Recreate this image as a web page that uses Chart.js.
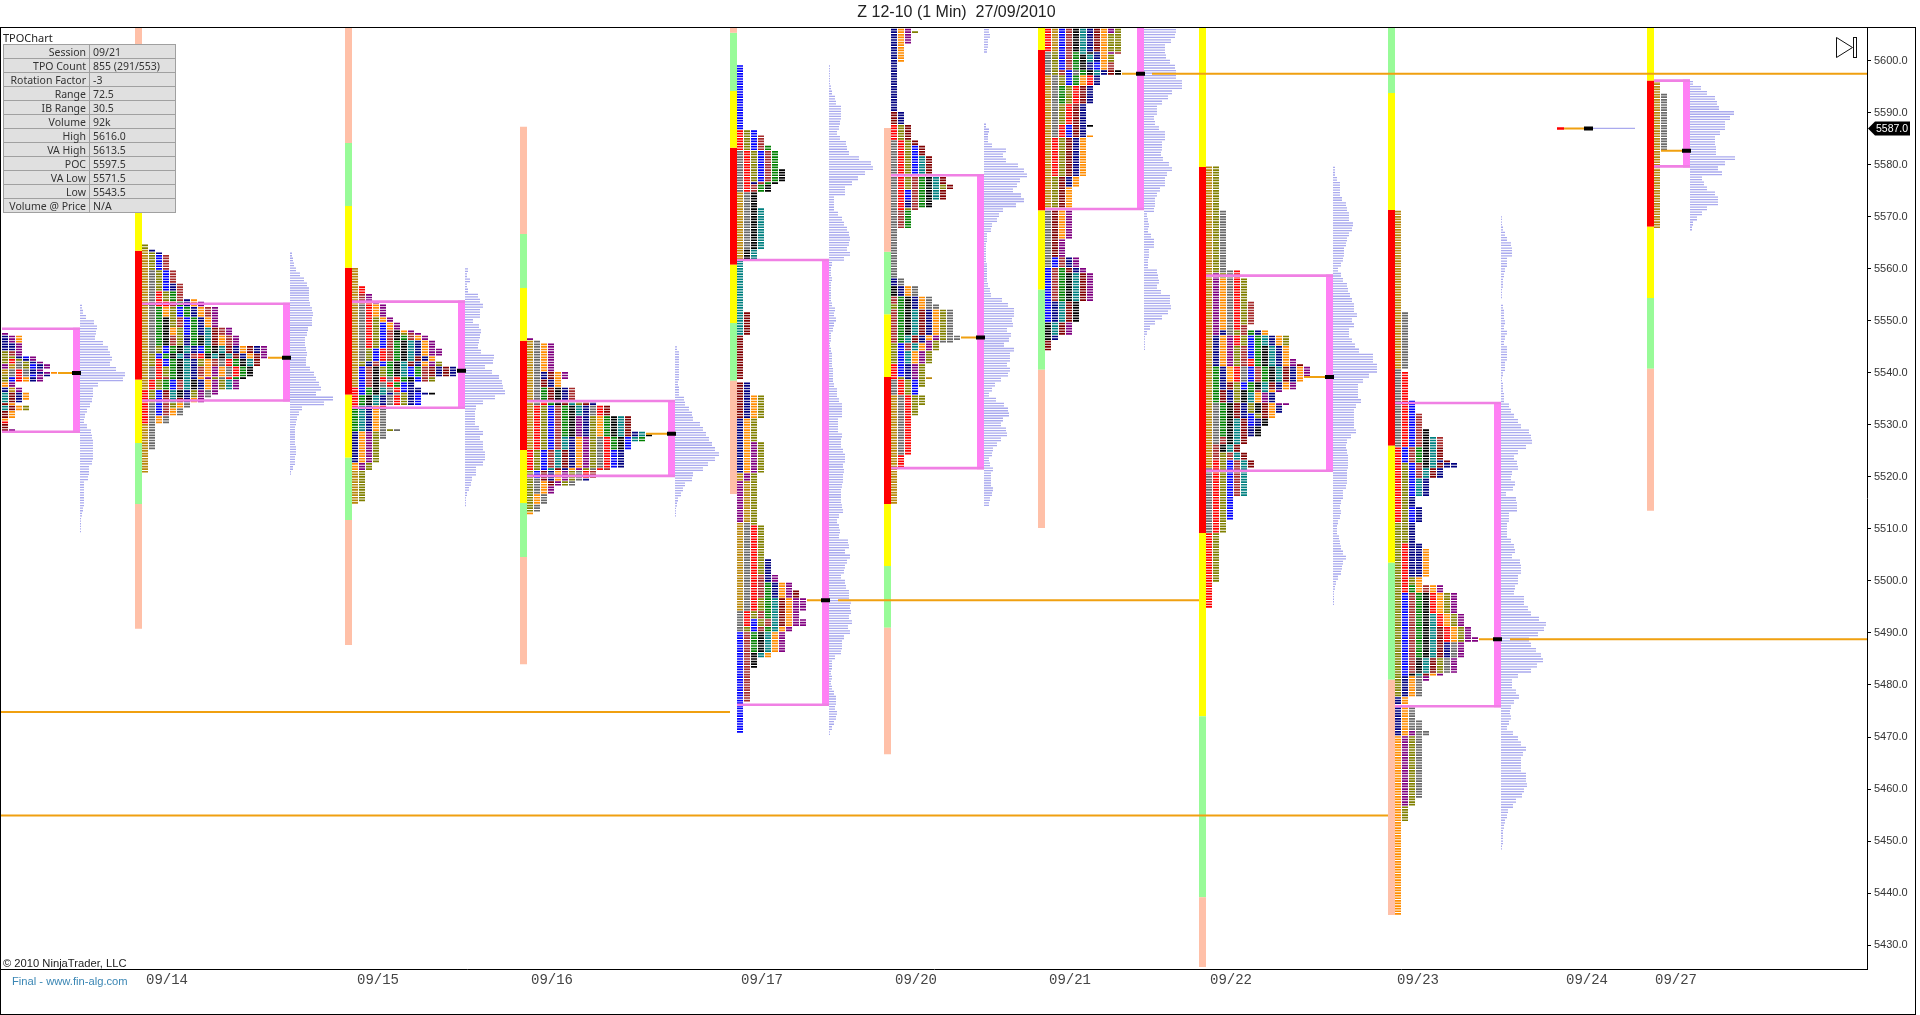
<!DOCTYPE html>
<html>
<head>
<meta charset="utf-8">
<title>Z 12-10 TPO</title>
<script src="https://cdn.jsdelivr.net/npm/chart.js@4"></script>
<style>
    html, body { margin: 0; padding: 0; background: #fff; overflow: hidden; }
    #wrap { position: relative; width: 1920px; height: 1015px; }
    #wrap canvas { position: absolute; left: 0; top: 0; }
    .txt { position: absolute; white-space: nowrap; font-family: "Liberation Sans", sans-serif; }
    #heading { left: 0; width: 1913px; top: 3px; text-align: center; font-size: 16px; color: #222; }
    #tpoName { left: 3px; top: 32px; font-size: 11px; font-family: "Noto Sans", sans-serif; color: #222; line-height: 12px; }
    #copy { left: 3px; top: 957px; font-size: 11.2px; color: #222; }
    #final { left: 12px; top: 975px; font-size: 11.2px; color: #3a86b4; }
    #stats { position: absolute; left: 3px; top: 44px; border-collapse: collapse; font: 10.5px "Noto Sans", sans-serif; color: #333; }
    #stats td { background: #e0e0e0; border: 1px solid #a0a0a0; height: 13px; padding: 0 3px; line-height: 12px; }
    #stats td:first-child { width: 79px; text-align: right; }
    #stats td:last-child { width: 79px; }
</style>
</head>
<body>
<div id="wrap">
    <canvas id="Chart1" width="1920" height="1015"></canvas>
    <div class="txt" id="heading">Z 12-10 (1 Min)&nbsp; 27/09/2010</div>
    <div class="txt" id="tpoName">TPOChart</div>
    <table id="stats"></table>
    <div class="txt" id="copy">&copy; 2010 NinjaTrader, LLC</div>
    <div class="txt" id="final">Final - www.fin-alg.com</div>
</div>
<script>
const xLabels = ['09/14', '09/15', '09/16', '09/17', '09/20', '09/21', '09/22', '09/23', '09/24', '09/27'];
const xLabelSlots = [167, 378, 552, 762, 916, 1070, 1231, 1418, 1587, 1676];
const currentPrice = 5587.0;

const statNames = ['Session', 'TPO Count', 'Rotation Factor', 'Range', 'IB Range', 'Volume', 'High', 'VA High', 'POC', 'VA Low', 'Low', 'Volume @ Price'];
const statValues = ['09/21', '855 (291/553)', '-3', '72.5', '30.5', '92k', '5616.0', '5613.5', '5597.5', '5571.5', '5543.5', 'N/A'];

// one entry per session, first one is the cut off 09/13
const sessionSlot = [2, 142, 352, 527, 737, 891, 1045, 1206, 1395, 1564, 1654];
const boxEnd = [80, 290, 465, 675, 829, 984, 1144, 1333, 1501, 1592, 1690];
const vaHigh = [5548.5, 5553.3, 5553.7, 5534.6, 5561.7, 5578, 5613.5, 5558.7, 5534.2, null, 5596.2];
const vaLow = [5528.7, 5534.7, 5533.3, 5520.2, 5476.2, 5521.7, 5571.5, 5521.2, 5475.9, null, 5579.7];
const pocPrice = [5540, 5542.9, 5540.4, 5528.3, 5496.3, 5546.8, 5597.5, 5539.2, 5488.8, 5587, 5582.7];

// range bar on the left of each session
const barEdges = [
    [],
    [5606.5, 5592.5, 5581, 5563.5, 5538.7, 5526.5, 5514.8, 5490.8],
    [5606.5, 5584.2, 5572.1, 5560.2, 5535.8, 5523.7, 5511.7, 5487.7],
    [5587.3, 5566.7, 5556.3, 5546.2, 5525.2, 5515, 5504.6, 5484],
    [5606.5, 5605.4, 5594.2, 5583.3, 5560.8, 5549.6, 5538.5, 5516.7],
    [5587.1, 5563.3, 5551.3, 5539.2, 5514.8, 5502.9, 5491, 5466.7],
    [5606.5, 5602.1, 5571.2, 5556, 5540.6, 5510.2],
    [5606.5, 5579.6, 5509.2, 5474, 5439.2, 5425.8],
    [5606.5, 5593.8, 5571.3, 5526, 5503.5, 5481, 5435.8],
    [5587.25, 5586.75],
    [5606.5, 5596.2, 5568.1, 5554.4, 5540.8, 5513.5]
];
const barColours = ['', 'SLYRYLS', 'SLYRYLS', 'SLYRYLS', 'SLYRYLS', 'SLYRYLS', 'YRYLS', 'YRYLS', 'LYRYLS', 'R', 'YRYLS'];

// [high, low, letters left to right], one letter per TPO block
const tpo0913 = [[5547.5, 5547.5, 'P'], [5547, 5546, 'VPA'], [5545.5, 5544.5, 'VVP'], [5544, 5543.5, 'OWP'], [5543, 5543, 'OOVBP'], [5542.5, 5542.5, 'OROVP'], [5542, 5542, 'ORDOVP'], [5541.5, 5541, 'PGDOBVP'], [5540.5, 5540.5, 'GDRDVP'], [5540, 5540, 'GDRDVVPA'], [5539.5, 5539.5, 'ODRDBPV'], [5539, 5538.5, 'OBRAVP'], [5538, 5537.5, 'AP'], [5537, 5536.5, 'VGP'], [5536, 5535, 'TMVA'], [5534.5, 5534.5, 'TMV'], [5534, 5534, 'MA'], [5533.5, 5533, 'TMAO'], [5532.5, 5531.5, 'MA'], [5531, 5531, 'A'], [5530.5, 5530.5, 'R'], [5530, 5529.5, 'M'], [5529, 5529, 'MP']];
const tpo0914 = [[5564.5, 5564, 'O'], [5563.5, 5563.5, 'GV'], [5563, 5563, 'GOV'], [5562.5, 5560, 'GOBW'], [5559.5, 5557.5, 'GDOBW'], [5557, 5556, 'GDOBVW'], [5555.5, 5554.5, 'GDRONW'], [5554, 5554, 'GDRONWVA'], [5553.5, 5553, 'GDRRWNVAP'], [5552.5, 5551, 'GDNAOBNVAWP'], [5550.5, 5549, 'GDNKOWBNVAP'], [5548.5, 5547.5, 'GDNKAOBNVTMWP'], [5547, 5545.5, 'GDNKWOVNKTMAWP'], [5545, 5544, 'GDOBNKTVBNKTMVAMVP'], [5543.5, 5543, 'GOBNKTVWRKTKTMVAMP'], [5542.5, 5541.5, 'GORBNKTVOAWDRNKTM'], [5541, 5539.5, 'GDRONKTVWAPADRNK'], [5539, 5539, 'GDRWNKTVAPODRNK'], [5538.5, 5537, 'GRONBWTKVAPOTP'], [5536.5, 5536, 'ROBMTKVOPDP'], [5535.5, 5535.5, 'ROBMTKVOPD'], [5535, 5534.5, 'ROBWTMVAP'], [5534, 5533.5, 'RDBWOAD'], [5533, 5532, 'RDBWAD'], [5531.5, 5530.5, 'RDAD'], [5530, 5525.5, 'GD'], [5525, 5521, 'G']];
const tpo0915 = [[5560, 5557, 'G'], [5556.5, 5555.5, 'GR'], [5555, 5554, 'GWP'], [5553.5, 5553.5, 'GWRP'], [5553, 5551, 'GDRAP'], [5550.5, 5550, 'GDROAP'], [5549.5, 5548.5, 'GDROBAP'], [5548, 5548, 'GDROBWKAP'], [5547.5, 5547.5, 'GDROBWKOWP'], [5547, 5546.5, 'GDROBWKNWAP'], [5546, 5545, 'GDROBWNKTVAP'], [5544.5, 5543.5, 'GDOBRWNKTVAPP'], [5543, 5542.5, 'GDOBRWNKTMVA'], [5542, 5541.5, 'GOVWBNKTMVAPO'], [5541, 5539.5, 'GBWKONKTBNWMVMV'], [5539, 5538.5, 'GBWKRDRNKBWO'], [5538, 5537.5, 'GBWKDRNBV'], [5537, 5536.5, 'RBNKTDRBVV'], [5536, 5536, 'RBNKTVDOVBVK'], [5535.5, 5534, 'RNKTVDROVB'], [5533.5, 5533.5, 'RTVAR'], [5533, 5529.5, 'NTVAD'], [5529, 5529, 'NTVADOD'], [5528.5, 5527.5, 'VAPOD'], [5527, 5523, 'VAPO'], [5522.5, 5521.5, 'APO'], [5521, 5515.5, 'GO'], [5515, 5515, 'G']];
const tpo0916 = [[5546.5, 5546.5, 'P'], [5546, 5546, 'GD'], [5545.5, 5540.5, 'GDAP'], [5540, 5539, 'GDVMAP'], [5538.5, 5537.5, 'GDMVA'], [5537, 5535, 'GDNMKVW'], [5534.5, 5534, 'GDRNKMTOMV'], [5533.5, 5532, 'GROBWNKTVDRM'], [5531.5, 5529, 'GROBWNKPVOANKTM'], [5528.5, 5528.5, 'GROBWNKPVOANKTMVT'], [5528, 5528, 'GROBWNKPVOANKTMVTK'], [5527.5, 5527, 'GROBWTVAPODRNKBTN'], [5526.5, 5525.5, 'GROBWTVAPODRNKB'], [5525, 5522, 'ROBWTMVAPODRBV'], [5521.5, 5521.5, 'ROBTMVAPODRW'], [5521, 5520, 'OBMVAPODRW'], [5519.5, 5519.5, 'ODMVAPODV'], [5519, 5518.5, 'ODAMPOD'], [5518, 5517, 'ODAP'], [5516.5, 5515, 'OAD'], [5514.5, 5513.5, 'OD'], [5513, 5513, 'A']];
const tpo0917 = [[5599, 5587, 'B'], [5586.5, 5586, 'ROB'], [5585.5, 5584, 'ROBW'], [5583.5, 5583, 'ROBWN'], [5582.5, 5579.5, 'DROBWN'], [5579, 5577, 'DROBWNK'], [5576.5, 5576.5, 'DRVWNK'], [5576, 5575, 'DRWNK'], [5574.5, 5572, 'GDK'], [5571.5, 5564, 'GDKT'], [5563.5, 5562, 'GKT'], [5561.5, 5552, 'T'], [5551.5, 5547.5, 'TM'], [5547, 5539, 'M'], [5538, 5536, 'MV'], [5535.5, 5531.5, 'MVAO'], [5531, 5527, 'VAO'], [5526.5, 5521, 'VAPO'], [5520.5, 5519.5, 'GPO'], [5519, 5511.5, 'PGO'], [5511, 5511, 'GDO'], [5510.5, 5504.5, 'GDRO'], [5504, 5501.5, 'GDROV'], [5501, 5500, 'GDRWVP'], [5499.5, 5498.5, 'GDRWNVAP'], [5498, 5497, 'GDRWNVAPM'], [5496.5, 5494.5, 'GDRONTMAPP'], [5494, 5493, 'DROWNTMAP'], [5492.5, 5491.5, 'DRBOWTMAPP'], [5491, 5490.5, 'DOBWNTAP'], [5490, 5486.5, 'BWNKTAP'], [5486, 5485.5, 'BWKTA'], [5485, 5483.5, 'BWK'], [5483, 5477, 'BW'], [5476.5, 5471, 'B']];
const tpo0920 = [[5606.5, 5606, 'VAP'], [5605.5, 5605.5, 'VAPO'], [5605, 5603.5, 'VAP'], [5603, 5600, 'VA'], [5599.5, 5590.5, 'V'], [5590, 5588, 'MV'], [5587.5, 5585, 'ROM'], [5584.5, 5584, 'DROM'], [5583.5, 5582, 'DROBM'], [5581.5, 5578.5, 'DROBTM'], [5578, 5576.5, 'DROWNKTM'], [5576, 5575.5, 'DROWNKTOM'], [5575, 5573.5, 'DRBWNKTM'], [5573, 5572, 'DRVWNK'], [5571.5, 5571.5, 'DROW'], [5571, 5568, 'DWN'], [5567.5, 5558.5, 'D'], [5558, 5557, 'VD'], [5556.5, 5555, 'KVAD'], [5554.5, 5553.5, 'WNKVAD'], [5553, 5552.5, 'ONKVADD'], [5552, 5547.5, 'WNKTMVAOD'], [5547, 5546.5, 'WNTMVAPODD'], [5546, 5546, 'WNTMVPODD'], [5545.5, 5544.5, 'OBWTAPO'], [5544, 5542, 'OBTAPO'], [5541.5, 5539.5, 'RBVPO'], [5539, 5539, 'ROVPOG'], [5538.5, 5537.5, 'DROBO'], [5537, 5536, 'DROB'], [5535.5, 5534, 'GDROO'], [5533.5, 5532, 'GDRO'], [5531.5, 5524.5, 'GDR'], [5524, 5522, 'GR'], [5521.5, 5515, 'G']];
const tpo0921 = [[5606.5, 5605.5, 'RGBWKTVMAPO'], [5605, 5602, 'RGBWKTVMAOO'], [5601.5, 5601.5, 'DOBWNTKVAPW'], [5601, 5600, 'DOBWNKTVAO'], [5599.5, 5598.5, 'DOBWNKVBAW'], [5598, 5597.5, 'DOWBDNKTVMK'], [5597, 5595.5, 'GDOBNARV'], [5595, 5592, 'GDNORMV'], [5591.5, 5588, 'GDORMV'], [5587.5, 5587.5, 'GDRBMVK'], [5587, 5586, 'GDRBMV'], [5585.5, 5585.5, 'GDRBMVA'], [5585, 5578, 'GROMVA'], [5577.5, 5576, 'GOMVA'], [5575.5, 5572, 'GOMA'], [5571, 5566, 'DMAP'], [5565.5, 5562.5, 'DMP'], [5562, 5560.5, 'DBWVP'], [5560, 5559.5, 'BWNMVP'], [5559, 5554, 'BWNKTMP'], [5553.5, 5550, 'BVTMK'], [5549.5, 5547.5, 'KTMP'], [5547, 5546.5, 'KV'], [5546, 5544.5, 'M']];
const tpo0922 = [[5579.5, 5571.5, 'GO'], [5571, 5560, 'GOD'], [5559.5, 5559.5, 'GODDR'], [5559, 5558.5, 'GPODR'], [5558, 5554, 'GPADRO'], [5553.5, 5549.5, 'GPADROW'], [5549, 5548.5, 'GPADRW'], [5548, 5547.5, 'GPVDOWNVA'], [5547, 5545.5, 'GVAPROBNTVAO'], [5545, 5543, 'GVAPOWBNKTVA'], [5542.5, 5542, 'GVAPOWRNKTVAP'], [5541.5, 5541.5, 'GVAPOWRNKTVAPM'], [5541, 5539.5, 'GNVARDBWNKTMVAP'], [5539, 5538.5, 'GNVARDBWNKTMVA'], [5538, 5537, 'GNVMOBNKTMVAP'], [5536.5, 5536.5, 'GNMVOKNWTAP'], [5536, 5534.5, 'GNMVOKTAPV'], [5534, 5534, 'GDNKMVOKMAPP'], [5533.5, 5532.5, 'GDNKMVOKMAV'], [5532, 5531.5, 'GDNKMVBOMA'], [5531, 5530, 'GDNKTMBVK'], [5529.5, 5528, 'GDNKTMVK'], [5527.5, 5526.5, 'GDWKTM'], [5526, 5525, 'GWKTM'], [5524.5, 5523.5, 'GWOWTM'], [5523, 5522, 'GROBWTM'], [5521.5, 5516.5, 'DROBWT'], [5516, 5512, 'DROB'], [5511.5, 5509.5, 'DRO'], [5509, 5500, 'RO'], [5499.5, 5495, 'R']];
const tpo0923 = [[5571, 5552, 'G'], [5551.5, 5541, 'GD'], [5540.5, 5540.5, 'D'], [5540, 5535, 'DR'], [5534.5, 5532.5, 'DRB'], [5532, 5529.5, 'DRBW'], [5529, 5528, 'DRBWK'], [5527.5, 5526, 'DRBWKTW'], [5525.5, 5523.5, 'RBWNKTM'], [5523, 5523, 'RBWNKTVM'], [5522.5, 5522, 'ROBWKTMVV'], [5521.5, 5520, 'ROBWTMV'], [5519.5, 5516.5, 'ROBTV'], [5516, 5514.5, 'ROV'], [5514, 5511.5, 'ROBV'], [5511, 5507.5, 'OOV'], [5507, 5506.5, 'ORVV'], [5506, 5501, 'ORVVA'], [5500.5, 5499.5, 'OROA'], [5499, 5498, 'ORNAWAP'], [5497.5, 5494, 'OBWNKRAOP'], [5493.5, 5491.5, 'OBWNKTRAOP'], [5491, 5489.5, 'OBWNKTMRAOP'], [5489, 5488.5, 'OBWNKTMRAOPP'], [5488, 5485.5, 'OBWNKTMVDP'], [5485, 5482.5, 'OBWKTMODP'], [5482, 5482, 'OBKTMAP'], [5481.5, 5481, 'OVADP'], [5480.5, 5478, 'OVAD'], [5477.5, 5476.5, 'VA'], [5476, 5473.5, 'VAD'], [5473, 5471.5, 'VADD'], [5471, 5470.5, 'VAPDD'], [5470, 5458.5, 'APOD'], [5458, 5457, 'APO'], [5456.5, 5454, 'AO'], [5453.5, 5436, 'A']];
const tpo0924 = [];
const tpo0927 = [[5596, 5594, 'G'], [5593.5, 5583, 'GD'], [5582.5, 5568, 'G']];
const tpoBands = [tpo0913, tpo0914, tpo0915, tpo0916, tpo0917, tpo0920, tpo0921, tpo0922, tpo0923, tpo0924, tpo0927];

// volume profile, read top to bottom between volTop and volBottom
const volTop = [5553, 5563, 5560, 5545, 5599, 5606, 5606, 5579.5, 5570, 5587, 5596];
const volBottom = [5510, 5521, 5515, 5513, 5471, 5515, 5545, 5496, 5449, 5587, 5568];
const vol0913 = [2, 3, 6, 14, 17, 16, 15, 23, 28, 30, 32, 30, 36, 45, 43, 18, 13, 13, 12, 10, 7, 5, 4, 7, 11, 12, 13, 13, 13, 13, 12, 9, 9, 8, 4, 4, 4, 4, 4, 3, 2, 1, 1, 1];
const vol0914 = [2, 3, 4, 6, 10, 14, 17, 19, 19, 19, 20, 22, 23, 22, 22, 18, 17, 15, 15, 16, 17, 16, 16, 20, 24, 26, 29, 31, 26, 43, 34, 12, 9, 7, 6, 5, 5, 5, 5, 6, 6, 5, 5, 3, 1];
const vol0915 = [3, 2, 5, 2, 3, 13, 15, 18, 15, 15, 8, 14, 16, 15, 14, 13, 16, 29, 28, 20, 27, 34, 37, 38, 40, 30, 18, 11, 10, 10, 10, 14, 18, 15, 18, 18, 20, 20, 18, 11, 11, 7, 6, 4, 2, 1, 1];
const vol0916 = [2, 4, 4, 4, 4, 4, 4, 3, 4, 4, 9, 10, 14, 17, 18, 25, 28, 31, 34, 37, 40, 44, 40, 33, 28, 18, 17, 10, 8, 6, 3, 2, 1, 1];
const vol0917 = [1, 1, 1, 1, 2, 3, 6, 7, 12, 12, 12, 11, 10, 8, 11, 17, 18, 20, 30, 42, 44, 36, 29, 23, 16, 16, 5, 5, 5, 9, 13, 15, 18, 20, 21, 20, 18, 21, 15, 3, 2, 2, 3, 2, 2, 2, 2, 3, 6, 5, 7, 5, 4, 2, 2, 1, 2, 3, 3, 3, 4, 4, 4, 5, 8, 8, 10, 13, 13, 13, 9, 9, 9, 13, 12, 12, 14, 16, 16, 14, 15, 14, 14, 13, 12, 12, 12, 13, 14, 10, 8, 10, 11, 10, 19, 20, 16, 21, 18, 16, 15, 12, 16, 17, 20, 20, 22, 21, 22, 20, 23, 19, 21, 15, 13, 13, 12, 6, 3, 3, 2, 3, 2, 3, 5, 7, 7, 6, 8, 7, 5, 3, 1];
const vol0920 = [5, 6, 4, 4, 3, 1, 1, 1, 0, 1, 1, 1, 1, 1, 1, 1, 0, 0, 1, 2, 5, 4, 4, 8, 22, 19, 22, 34, 40, 43, 36, 33, 29, 37, 40, 32, 19, 15, 13, 8, 7, 3, 3, 2, 2, 2, 2, 3, 3, 3, 3, 4, 6, 7, 18, 24, 30, 30, 28, 29, 23, 27, 25, 20, 30, 26, 26, 23, 26, 24, 17, 11, 8, 5, 12, 20, 24, 25, 19, 17, 22, 23, 17, 13, 9, 8, 5, 6, 9, 7, 7, 7, 9, 8, 6, 5];
const vol0921 = [32, 31, 27, 21, 21, 22, 26, 31, 32, 32, 38, 38, 28, 24, 18, 13, 13, 10, 11, 15, 21, 21, 18, 18, 17, 19, 25, 28, 23, 21, 21, 16, 13, 11, 11, 10, 3, 4, 5, 4, 7, 10, 10, 5, 5, 4, 4, 13, 14, 15, 13, 17, 26, 26, 27, 24, 18, 11, 6, 3, 1, 1, 1];
const vol0922 = [2, 2, 4, 7, 7, 7, 9, 13, 14, 16, 16, 20, 19, 16, 14, 13, 11, 11, 10, 8, 5, 8, 10, 14, 15, 17, 19, 21, 21, 24, 19, 21, 16, 16, 19, 22, 26, 40, 40, 44, 44, 36, 30, 25, 25, 25, 28, 23, 21, 21, 21, 21, 23, 18, 14, 13, 14, 15, 15, 15, 14, 14, 14, 13, 10, 10, 8, 7, 8, 7, 5, 4, 4, 6, 7, 8, 10, 13, 10, 9, 8, 5, 3, 2, 1, 1, 1];
const vol0923 = [1, 1, 2, 4, 6, 10, 11, 11, 6, 6, 4, 3, 2, 2, 1, 1, 0, 2, 3, 3, 4, 3, 6, 4, 3, 6, 6, 6, 4, 4, 2, 1, 2, 2, 3, 3, 8, 10, 13, 17, 20, 28, 30, 31, 25, 17, 13, 16, 17, 11, 10, 14, 12, 5, 15, 16, 16, 8, 8, 6, 6, 6, 10, 13, 14, 11, 19, 20, 20, 17, 17, 14, 13, 23, 23, 27, 30, 38, 45, 43, 37, 28, 30, 35, 40, 42, 36, 30, 17, 11, 11, 15, 18, 13, 10, 9, 10, 8, 6, 12, 17, 20, 25, 22, 20, 20, 20, 25, 25, 26, 23, 21, 15, 12, 7, 6, 4, 3, 2, 2, 2, 1];
const vol0924 = [43];
const vol0927 = [3, 11, 17, 25, 27, 29, 44, 40, 35, 35, 30, 25, 25, 26, 26, 45, 35, 28, 32, 12, 14, 17, 25, 28, 28, 17, 12, 7, 3, 2];
const volumes = [vol0913, vol0914, vol0915, vol0916, vol0917, vol0920, vol0921, vol0922, vol0923, vol0924, vol0927];

// naked POCs that run on to the right
const nakedPrice = [5474.8, 5454.9, 5496.3, 5597.5, 5488.8];
const nakedFrom = [0, 0, 838, 1152, 1510];
const nakedTo = [730, 1388, 1199, 1867, 1867];

const tpoColours = { R: '#ff0000', G: '#b8860b', D: '#696969', O: '#808000', B: '#0000ff', W: '#a52a2a', N: '#008000', K: '#000000', T: '#008080', V: '#000080', A: '#ff8c00', P: '#800080', M: '#800000' };
const barPalette = { S: '#ffc0a8', L: '#98fb98', Y: '#ffff00', R: '#ff0000' };

function addSeg(list, x1, y1, x2, y2) {
    list.push({ x: x1, y: y1 }, { x: x2, y: y2 }, { x: null, y: null });
}

function lineSet(label, color, width, order, data) {
    return {
        type: 'scatter',
        label: label,
        data: data,
        showLine: true,
        spanGaps: false,
        borderColor: color,
        backgroundColor: color,
        borderWidth: width,
        borderCapStyle: 'butt',
        pointRadius: 0,
        pointHoverRadius: 0,
        tension: 0,
        order: order,
        clip: 0
    };
}

const tpoData = {};
Object.keys(tpoColours).forEach(function (k) { tpoData[k] = []; });
const barData = {};
Object.keys(barPalette).forEach(function (k) { barData[k] = []; });
const volData = [];
const boxSide = [];
const boxEdge = [];
const orange = [];
const pocMark = [];

sessionSlot.forEach(function (slot, s) {
    const edges = barEdges[s];
    for (let i = 0; i < edges.length - 1; i++) {
        addSeg(barData[barColours[s][i]], slot - 3.5, edges[i], slot - 3.5, edges[i + 1]);
    }

    let pocCols = 0;
    const pocRow = Math.round(pocPrice[s] * 2) / 2;
    tpoBands[s].forEach(function (band) {
        for (let p = band[0]; p >= band[1]; p -= 0.5) {
            if (p === pocRow) pocCols = band[2].length;
            for (let c = 0; c < band[2].length; c++) {
                const left = slot + c * 7;
                addSeg(tpoData[band[2][c]], left, p, left + 6, p);
            }
        }
    });

    const vols = volumes[s];
    const step = vols.length > 1 ? (volTop[s] - volBottom[s]) / (vols.length - 1) : 0;
    vols.forEach(function (v, i) {
        if (!v) return;
        const p = volTop[s] - i * step;
        addSeg(volData, boxEnd[s], p, boxEnd[s] + v, p);
        if (step) addSeg(volData, boxEnd[s], p - step / 2, boxEnd[s] + v, p - step / 2);
    });

    if (vaHigh[s] !== null) {
        addSeg(boxSide, boxEnd[s] - 3.5, vaHigh[s] + 0.2, boxEnd[s] - 3.5, vaLow[s] - 0.2);
        addSeg(boxEdge, slot, vaHigh[s], boxEnd[s], vaHigh[s]);
        addSeg(boxEdge, slot, vaLow[s], boxEnd[s], vaLow[s]);
    }
    addSeg(orange, slot + pocCols * 7, pocPrice[s], boxEnd[s] - 7, pocPrice[s]);
    addSeg(pocMark, boxEnd[s] - 8, pocPrice[s], boxEnd[s] + 1, pocPrice[s]);
});

nakedPrice.forEach(function (p, i) {
    addSeg(orange, nakedFrom[i], p, nakedTo[i], p);
});

const datasets = [];
Object.keys(barData).forEach(function (k) {
    datasets.push(lineSet('range ' + k, barPalette[k], 7, 7, barData[k]));
});
Object.keys(tpoData).forEach(function (k) {
    datasets.push(lineSet('tpo ' + k, tpoColours[k], 1.7, 6, tpoData[k]));
});
datasets.push(lineSet('volume', '#aaaaee', 1.3, 5, volData));
datasets.push(lineSet('value area side', '#ff80f4', 7, 4, boxSide));
datasets.push(lineSet('value area edge', '#f080e4', 2.6, 3, boxEdge));
datasets.push(lineSet('poc line', '#f0a010', 2, 2, orange));
datasets.push(lineSet('poc', '#000000', 4, 1, pocMark));

// frame, last price tag and the little play icon
const chrome = {
    id: 'chrome',
    afterDraw: function (chart) {
        const c = chart.ctx;
        c.save();
        c.strokeStyle = '#000';
        c.lineWidth = 1;
        c.strokeRect(0.5, 27.5, 1915, 987);

        const y = chart.scales.y.getPixelForValue(currentPrice);
        c.fillStyle = '#000';
        c.beginPath();
        c.moveTo(1868, y);
        c.lineTo(1875, y - 7);
        c.lineTo(1910, y - 7);
        c.lineTo(1910, y + 7);
        c.lineTo(1875, y + 7);
        c.closePath();
        c.fill();
        c.fillStyle = '#fff';
        c.font = '10.5px "Liberation Sans"';
        c.textBaseline = 'middle';
        c.fillText(currentPrice.toFixed(1), 1876, y + 0.5);

        c.strokeStyle = '#111';
        c.beginPath();
        c.moveTo(1836.5, 37.5);
        c.lineTo(1852.5, 47.5);
        c.lineTo(1836.5, 57.5);
        c.closePath();
        c.stroke();
        c.strokeRect(1853.5, 37.5, 3, 20);
        c.restore();
    }
};

statNames.forEach(function (name, i) {
    const row = document.getElementById('stats').insertRow();
    row.insertCell().textContent = name;
    row.insertCell().textContent = statValues[i];
});

const ctx1 = document.getElementById('Chart1').getContext('2d');

new Chart(ctx1, {
    type: 'scatter',
    data: { datasets: datasets },
    plugins: [chrome],
    options: {
        responsive: false,
        animation: false,
        events: [],
        layout: { padding: { left: 1, top: 27, right: 5, bottom: 1 } },
        plugins: {
            legend: { display: false },
            tooltip: { enabled: false }
        },
        scales: {
            x: {
                type: 'linear',
                min: 1,
                max: 1867,
                afterFit: function (scale) { scale.height = 45; },
                afterBuildTicks: function (scale) {
                    scale.ticks = xLabelSlots.map(function (v) { return { value: v }; });
                },
                grid: { drawOnChartArea: false, drawTicks: false },
                border: { display: true, color: '#000', width: 1 },
                ticks: {
                    autoSkip: false,
                    maxRotation: 0,
                    padding: 3,
                    color: '#444',
                    font: { family: '"Liberation Mono"', size: 14 },
                    callback: function (value, i) { return xLabels[i]; }
                }
            },
            y: {
                type: 'linear',
                position: 'right',
                min: 5425.4,
                max: 5606.5,
                afterFit: function (scale) { scale.width = 48; },
                grid: { drawOnChartArea: false, drawTicks: true, tickLength: 4, tickColor: '#000' },
                border: { display: true, color: '#000', width: 1 },
                ticks: {
                    stepSize: 10,
                    includeBounds: false,
                    padding: 3,
                    color: '#333',
                    font: { family: '"Liberation Sans"', size: 11 },
                    callback: function (value) { return value.toFixed(1); }
                }
            }
        }
    }
});
</script>
</body>
</html>
